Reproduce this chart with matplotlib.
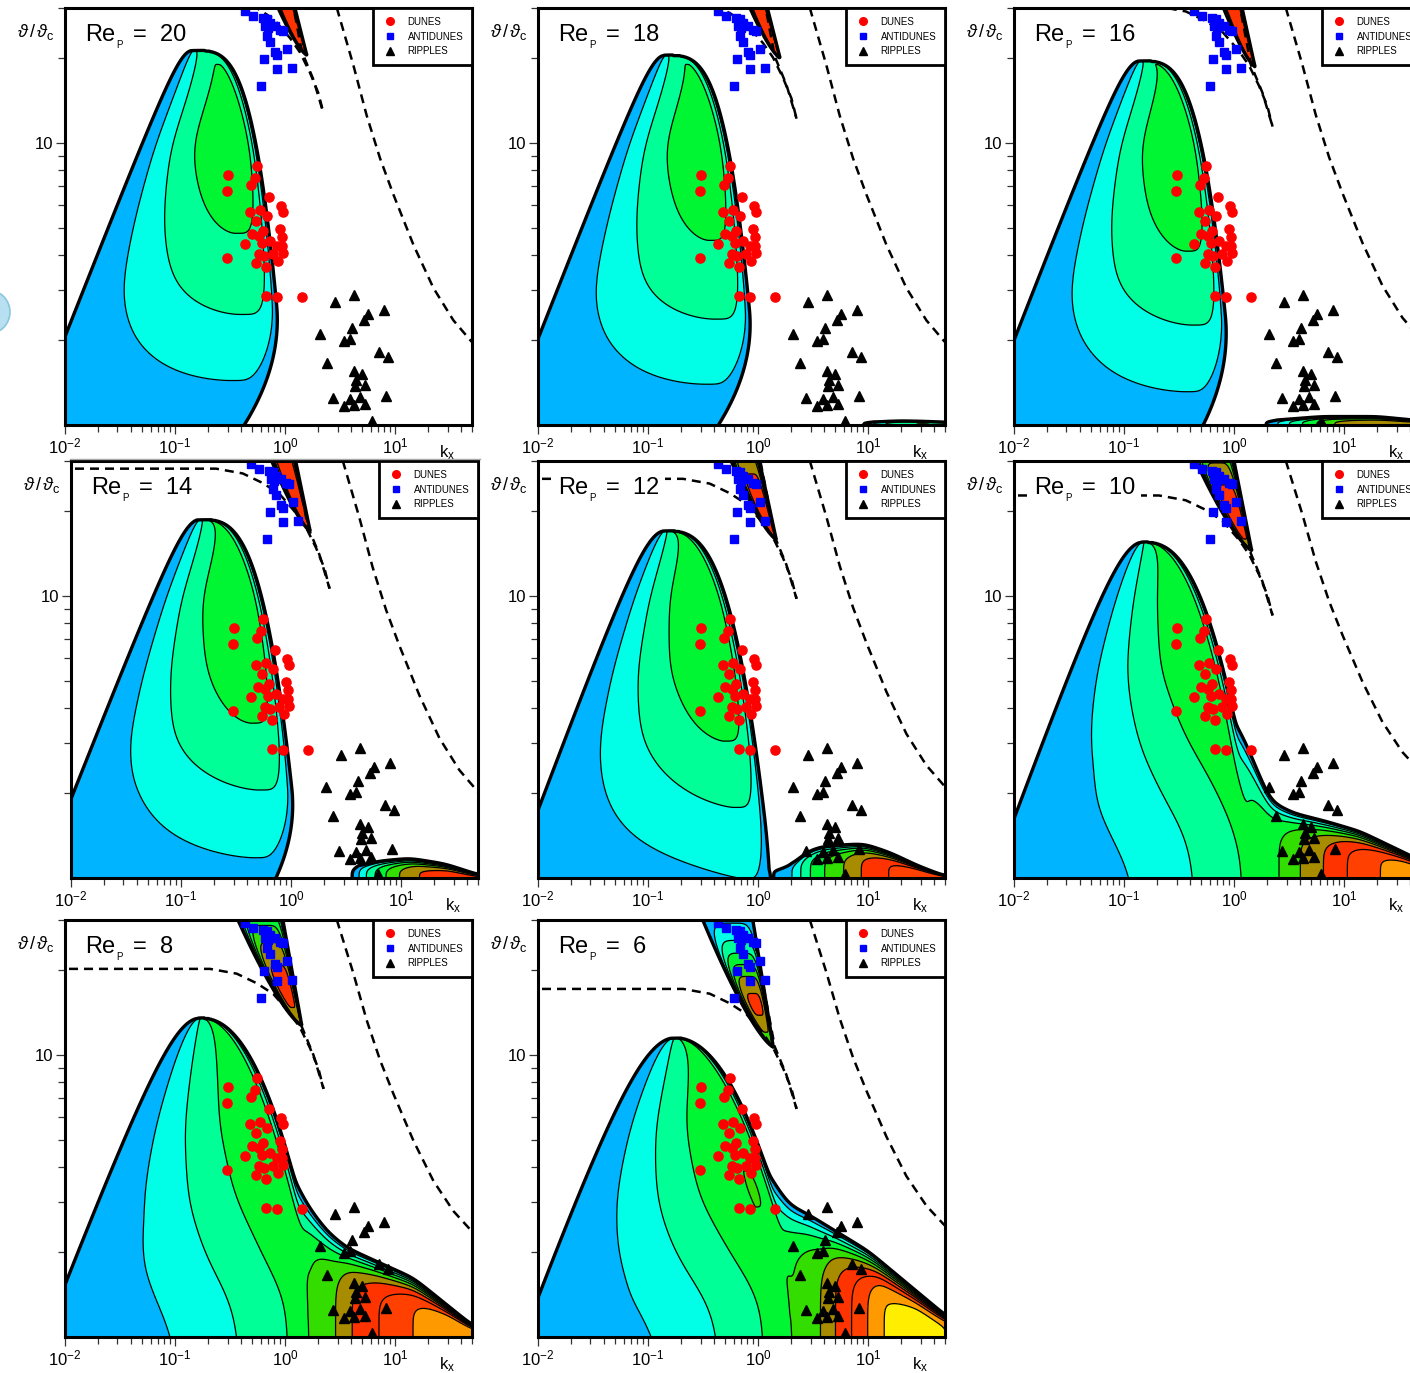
import numpy as np
import matplotlib
matplotlib.use("Agg")
import matplotlib.pyplot as plt
from matplotlib.lines import Line2D
from matplotlib.patches import Circle, Rectangle
from matplotlib.transforms import IdentityTransform
from matplotlib.ticker import NullFormatter

plt.rcParams["font.family"] = ["Liberation Sans", "DejaVu Sans"]
plt.rcParams["mathtext.fontset"] = "custom"
plt.rcParams["mathtext.rm"] = "Liberation Sans"
plt.rcParams["mathtext.it"] = "Liberation Sans:italic"
plt.rcParams["mathtext.bf"] = "Liberation Sans:bold"

# ---------------------------------------------------------------- data
RE_P = [20, 18, 16, 14, 12, 10, 8, 6]

# observed bedforms (wavenumber k_x, Shields ratio theta/theta_c)
DUNE_K = [0.553, 0.301, 0.534, 0.491, 0.295, 0.716, 0.920, 0.953, 0.481, 0.593, 0.690,
          0.542, 0.901, 0.627, 0.501, 0.944, 0.581, 0.731, 0.614, 0.436, 0.841, 0.933,
          0.773, 0.966, 0.581, 0.644, 0.295, 0.859, 0.545, 0.671, 0.668, 0.851, 1.42]
DUNE_TH = [8.30, 7.69, 7.49, 7.09, 6.73, 6.41, 5.98, 5.70, 5.70, 5.78, 5.48,
           5.28, 4.94, 4.86, 4.75, 4.62, 4.68, 4.48, 4.40, 4.36, 4.31, 4.29,
           4.03, 4.06, 4.02, 3.97, 3.90, 3.81, 3.75, 3.63, 2.86, 2.83, 2.84]
ANTI_K = [0.433, 0.515, 0.627, 0.682, 0.731, 0.658, 0.811, 0.705, 0.901, 0.966,
          0.690, 0.731, 1.05, 0.811, 0.851, 0.644, 1.16, 0.841, 0.601]
ANTI_TH = [29.3, 28.0, 27.6, 27.5, 26.5, 25.8, 26.0, 25.5, 25.1, 24.8,
           23.8, 22.8, 21.5, 21.0, 20.4, 19.8, 18.4, 18.2, 15.9]
RIPPLE_K = [2.85, 4.27, 7.88, 5.65, 5.26, 2.09, 4.04, 3.42, 3.93, 7.21, 8.59, 2.41, 4.21,
            5.01, 4.42, 5.34, 4.33, 2.72, 8.28, 3.93, 4.84, 3.46, 5.34, 4.27, 6.14]
RIPPLE_TH = [2.72, 2.89, 2.56, 2.47, 2.36, 2.10, 2.20, 1.99, 2.02, 1.81, 1.74, 1.66, 1.55,
             1.51, 1.44, 1.39, 1.38, 1.25, 1.27, 1.24, 1.26, 1.17, 1.19, 1.18, 1.03]

# growth-rate bands 0-1, 1-2, ... 9+
LEVEL_COLORS = ["#00b4ff", "#00ffe6", "#00ff96", "#00f533", "#33dd00",
                "#a88c00", "#ff3300", "#ff4000", "#ff9900", "#ffee00"]

# dune lobe (log10 k, log10 theta) geometry per Re_p
DUNE_PEAK_U = [-0.84, -0.845, -0.855, -0.83, -0.845, -0.827, -0.77, -0.755]
DUNE_PEAK_V = [1.327, 1.31, 1.29, 1.27, 1.23, 1.19, 1.13, 1.06]
DUNE_EDGE_V = [0.313, 0.305, 0.30, 0.28, 0.24, 0.21, 0.185, 0.139]
DUNE_CAP = [0.3, 0.32, 0.35, 0.38, 0.45, 0.55, 0.7, 0.9]
DUNE_RIGHT_COEF = [0.786, 0.79, 0.80, 0.85, 0.90, 1.00, 1.10, 1.21]
DUNE_RIGHT_POW = [0.284, 0.29, 0.30, 0.32, 0.34, 0.40, 0.45, 0.486]
DUNE_CURL = [2.1, 2.2, 1.9, 2.2, 0.3, 0.0, 0.0, 0.0]
DUNE_CURL_START = [0.9, 0.9, 0.9, 0.95, 1.0, 1.0, 1.0, 1.0]
AMP_V = [0.0, 0.25, 0.5, 0.75, 1.0, 1.25, 1.5]
DUNE_AMP = [
    [0.4, 1.35, 2.5, 3.2, 3.8, 3.05, 2.5],
    [0.45, 1.4, 2.6, 3.25, 3.8, 3.05, 2.5],
    [0.55, 1.5, 2.7, 3.35, 3.8, 3.05, 2.5],
    [0.7, 1.7, 2.9, 3.5, 3.8, 3.05, 2.5],
    [0.9, 2.0, 3.1, 3.7, 3.8, 3.0, 2.5],
    [2.0, 2.95, 3.5, 3.75, 3.5, 2.9, 2.5],
    [2.5, 3.4, 3.7, 3.65, 3.3, 2.9, 2.5],
    [2.8, 3.7, 4.05, 3.9, 3.2, 2.8, 2.5],
]
DUNE_SM_TOP = [0.74, 0.74, 0.74, 0.74, 0.74, 0.76, 0.78, 0.80]
DUNE_SM_BOT = [0.85, 0.86, 0.87, 0.88, 0.90, 0.95, 0.95, 0.95]
DUNE_ML_TOP = [1.8, 1.8, 1.8, 1.8, 1.8, 1.8, 1.8, 1.8]
DUNE_ML_BOT = [1.8, 1.8, 1.7, 1.6, 1.4, 0.5, 0.5, 0.5]
DUNE_MR = [5, 5, 5, 5, 5, 5, 5, 5]

# ripple lobe per Re_p: growth rate along the bed (H) and upper edge of the lobe
RIP_H_U = [
    [],
    [0.7, 0.95, 1.05, 1.15, 1.3, 1.5, 1.7, 1.9],
    [0.0, 0.28, 0.4, 0.5, 0.62, 0.75, 0.9, 1.1, 1.4, 1.7, 1.9],
    [0.3, 0.55, 0.62, 0.68, 0.76, 0.86, 0.98, 1.15, 1.45, 1.7, 1.9],
    [-0.1, 0.12, 0.33, 0.38, 0.47, 0.6, 0.78, 0.93, 1.18, 1.45, 1.7, 1.9],
    [-1.6, -1.3, -0.77, -0.34, 0.085, 0.418, 0.6, 0.812, 1.024, 1.327, 1.55, 1.8],
    [-1.65, -1.35, -0.85, -0.39, 0.047, 0.21, 0.47, 0.6, 0.85, 1.16, 1.5, 1.8],
    [-1.5, -1.2, -0.73, -0.33, 0.064, 0.31, 0.58, 0.7, 0.85, 1.0, 1.12, 1.45, 1.8],
]
RIP_H = [
    [],
    [-5, 0, 1, 2, 2.8, 3.1, 2.8, 2.0],
    [-5, 0, 1, 2, 3, 4, 5, 5.5, 5.8, 5.5, 4],
    [-5, 0, 1, 2, 3, 4, 5, 6, 6.6, 6.2, 5],
    [-5, 0, 1, 2, 3, 4, 5, 6, 7, 7.7, 7.3, 6],
    [-5, 0, 1, 2, 3, 4, 5, 6, 7, 8, 8.6, 8.3],
    [-5, 0, 1, 2, 3, 4, 5, 6, 7, 8, 8.9, 8.5],
    [-5, 0, 1, 2, 3, 4, 5, 6, 7, 8, 9, 9.5, 8.8],
]
RIP_TOP_U = [
    [],
    [1.0, 1.3, 1.6, 1.8],
    [0.3, 0.8, 1.3, 1.7, 1.8],
    [0.58, 0.8, 1.08, 1.4, 1.7, 1.8],
    [0.12, 0.3, 0.448, 0.6, 0.842, 0.964, 1.2, 1.45, 1.69, 1.8],
    [-1.3, -0.3, 0.085, 0.327, 0.539, 0.842, 1.145, 1.6, 1.8],
    [-1.35, -0.3, 0.015, 0.197, 0.379, 0.561, 0.864, 1.167, 1.697, 1.85],
    [-1.2, -0.3, 0.094, 0.276, 0.457, 1.003, 1.7, 1.9],
]
RIP_TOP_V = [
    [],
    [0.01, 0.015, 0.012, 0.008],
    [0.015, 0.03, 0.03, 0.015, 0.01],
    [0.04, 0.06, 0.07, 0.05, 0.012, 0.005],
    [0.03, 0.045, 0.095, 0.113, 0.119, 0.121, 0.09, 0.044, 0.008, 0.004],
    [0.4, 0.75, 0.5, 0.272, 0.23, 0.2, 0.165, 0.08, 0.04],
    [0.4, 0.85, 0.612, 0.47, 0.375, 0.316, 0.262, 0.209, 0.043, 0.01],
    [0.4, 0.85, 0.577, 0.47, 0.434, 0.304, 0.078, 0.02],
]
RIP_POW = [4, 4, 4, 4, 6, 6, 6, 6]
BLEND = [4.0, 4.0, 4.0, 4.0, 2.5, 2.0, 2.0, 2.0]

# antidune wedge geometry per Re_p
WEDGE_TOP_LEFT = [-0.09, -0.10, -0.12, -0.20, -0.27, -0.376, -0.455, -0.527]
WEDGE_TOP_RIGHT = [0.075, 0.07, 0.06, 0.03, 0.0, -0.012, -0.03, -0.057]
WEDGE_TIP_U = [0.197, 0.20, 0.19, 0.173, 0.165, 0.16, 0.152, 0.139]
WEDGE_TIP_V = [1.311, 1.30, 1.27, 1.23, 1.20, 1.161, 1.104, 1.027]
WEDGE_AMP = [7.0, 7.0, 7.0, 6.8, 6.6, 6.5, 6.35, 6.2]
WEDGE_CORE = [0.5, 0.5, 0.5, 0.45, 0.4, 0.4, 0.35, 0.32]
WEDGE_SPREAD = [3.0, 3.0, 3.0, 2.0, 1.2, 1.0, 0.8, 0.45]
WEDGE_ML = [6.0, 6.0, 6.0, 5.5, 5.0, 5.0, 4.5, 4.0]

# dashed boundaries (log10 k, log10 theta)
DASH_A_U = [0.47, 0.621, 0.742, 0.864, 0.985, 1.167, 1.348, 1.53, 1.682, 1.80]
DASH_A_V = [1.478, 1.288, 1.122, 0.980, 0.861, 0.695, 0.553, 0.446, 0.381, 0.335]
DASH_A_DROP = [0.08, 0.08, 0.07, 0.068, 0.05, 0.0, 0.0, -0.02]
DASH_C_U = [-2.1, -0.682, -0.439, -0.257, -0.106, 0.045, 0.136, 0.227, 0.303, 0.35]
DASH_C_F = [1.0, 1.0, 0.96, 0.88, 0.79, 0.63, 0.51, 0.34, 0.17, 0.0]
DASH_B_U = [-0.03, 0.075, 0.152, 0.258, 0.35]
DASH_B_DV = [0.59, 0.38, 0.22, 0.12, 0.0]
DASH_END_V = [1.103, 1.085, 1.057, 1.025, 0.989, 0.930, 0.879, 0.808]
DASH_C_RISE = 0.425

# ---------------------------------------------------------------- layout (pixels)
FIG_W, FIG_H = 1410, 1373
PANEL_LEFT = [65, 538, 1014, 71, 538, 1014, 65, 538]
PANEL_TOP = [8, 8, 8, 461, 461, 461, 920, 920]
PANEL_W, PANEL_H = 407, 417

# ---------------------------------------------------------------- fields
u_grid = np.linspace(-2.02, 1.76, 900)
v_grid = np.linspace(-0.01, 1.49, 650)
U, V = np.meshgrid(u_grid, v_grid)
FLOOR = -5.0


def smooth_profile(xk, yk, x, width=0.06):
    y = np.interp(x, xk, yk)
    dx = x[1] - x[0]
    n = int(3 * width / dx)
    ker = np.exp(-0.5 * (np.arange(-n, n + 1) * dx / width) ** 2)
    ker /= ker.sum()
    return np.convolve(np.pad(y, n, mode="edge"), ker, mode="valid")


def bump(s, sm, ml, mr):
    left = 1.0 - np.abs((sm - s) / sm) ** ml
    right = 1.0 - np.abs((s - sm) / (1.0 - sm)) ** mr
    return np.where(s < sm, left, right)


def dune_field(i):
    up, vp = DUNE_PEAK_U[i], DUNE_PEAK_V[i]
    t = np.clip(vp - V, 1e-7, None)
    t0 = vp - DUNE_EDGE_V[i]
    c1 = DUNE_CAP[i]
    c2 = ((up + 2.0) ** 2 - c1 * t0) / t0 ** 2
    wl = np.sqrt(c1 * t + c2 * t * t)
    wr = DUNE_RIGHT_COEF[i] * t ** DUNE_RIGHT_POW[i] \
        - DUNE_CURL[i] * np.clip(t - DUNE_CURL_START[i], 0, None) ** 2
    wr = np.maximum(wr, 1e-4)
    ul, ur = up - wl, up + wr
    s = (U - ul) / (ur - ul)
    frac = np.clip(V / vp, 0, 1)
    sm = DUNE_SM_BOT[i] + (DUNE_SM_TOP[i] - DUNE_SM_BOT[i]) * frac
    ml = DUNE_ML_BOT[i] + (DUNE_ML_TOP[i] - DUNE_ML_BOT[i]) * frac
    amp = smooth_profile(AMP_V, DUNE_AMP[i], v_grid)[:, None]
    d = amp * bump(s, sm, ml, DUNE_MR[i])
    d = np.where(V < vp, d, FLOOR)
    return np.clip(d, FLOOR, None)


def ripple_field(i):
    if not RIP_H_U[i]:
        return np.full(U.shape, FLOOR)
    h = smooth_profile(RIP_H_U[i], RIP_H[i], u_grid, width=0.04)
    top = smooth_profile(RIP_TOP_U[i], RIP_TOP_V[i], u_grid, width=0.06)
    top = np.maximum(top, 0.002)
    r = h[None, :] - np.maximum(h, 1.0)[None, :] * \
        (np.clip(V, 0, None) / top[None, :]) ** RIP_POW[i]
    return np.clip(r, FLOOR, None)


def wedge_field(i):
    ut, vt = WEDGE_TIP_U[i], WEDGE_TIP_V[i]
    tau = np.clip((V - vt) / (1.5 - vt), 1e-7, None)
    ul = ut + (WEDGE_TOP_LEFT[i] - ut) * tau ** 0.75
    ur = ut + (WEDGE_TOP_RIGHT[i] - ut) * tau
    s = (U - ul) / np.maximum(ur - ul, 1e-7)
    amp = WEDGE_AMP[i] * np.exp(-((tau - WEDGE_CORE[i]) / WEDGE_SPREAD[i]) ** 2)
    w = amp * bump(s, 0.55, WEDGE_ML[i], 6.0)
    w = np.where(V > vt, w, FLOOR)
    return np.clip(w, FLOOR, None)


def growth_field(i):
    k = BLEND[i]
    f = np.logaddexp(k * dune_field(i), k * ripple_field(i)) / k
    return np.maximum(f, wedge_field(i))


# ---------------------------------------------------------------- figure
fig = plt.figure(figsize=(FIG_W / 100, FIG_H / 100), dpi=100)
KX, TH = 10.0 ** U, 10.0 ** V
x_minor = [m * 10.0 ** e for e in (-2, -1, 0) for m in range(2, 10)] + [20, 30, 40, 50]
fill_levels = list(range(10)) + [1000]

for i, re in enumerate(RE_P):
    rect = [PANEL_LEFT[i] / FIG_W, 1 - (PANEL_TOP[i] + PANEL_H) / FIG_H,
            PANEL_W / FIG_W, PANEL_H / FIG_H]
    ax = fig.add_axes(rect)
    ax.set_xscale("log")
    ax.set_yscale("log")

    F = growth_field(i)
    ax.contourf(KX, TH, F, levels=fill_levels, colors=LEVEL_COLORS, zorder=1)
    ax.contour(KX, TH, F, levels=list(range(1, 10)), colors="k", linewidths=0.9, zorder=2)
    ax.contour(KX, TH, F, levels=[0], colors="k", linewidths=2.4, zorder=3)

    dash = dict(color="k", lw=1.8, ls=(0, (3.6, 2.4)), zorder=4)
    av = np.array(DASH_A_V)
    av = av - DASH_A_DROP[i] * (1.478 - av) / (1.478 - 0.381)
    ax.plot(10.0 ** np.array(DASH_A_U), 10.0 ** av, **dash)
    ve = DASH_END_V[i]
    ax.plot(10.0 ** np.array(DASH_C_U), 10.0 ** (ve + DASH_C_RISE * np.array(DASH_C_F)), **dash)
    ax.plot(10.0 ** np.array(DASH_B_U), 10.0 ** (ve + np.array(DASH_B_DV)), **dash)

    ax.plot(DUNE_K, DUNE_TH, ls="none", marker="o", ms=6.6, mfc="#ff0000", mec="#ff0000", zorder=6)
    ax.plot(ANTI_K, ANTI_TH, ls="none", marker="s", ms=5.2, mfc="#0000ff", mec="#0000ff", zorder=6)
    ax.plot(RIPPLE_K, RIPPLE_TH, ls="none", marker="^", ms=7.2, mfc="k", mec="k", zorder=6)

    ax.set_xlim(0.01, 50)
    ax.set_ylim(1, 30)
    ax.set_xticks([0.01, 0.1, 1, 10])
    ax.set_xticklabels([r"$10^{-2}$", r"$10^{-1}$", r"$10^{0}$", r"$10^{1}$"])
    ax.set_xticks(x_minor, minor=True)
    ax.set_yticks([10])
    ax.set_yticklabels(["10"])
    ax.set_yticks([2, 3, 4, 5, 6, 7, 8, 9, 20, 30], minor=True)
    ax.xaxis.set_minor_formatter(NullFormatter())
    ax.yaxis.set_minor_formatter(NullFormatter())
    ax.tick_params(which="both", direction="out", top=False, right=False, color="#333333")
    ax.tick_params(which="major", length=6.5, width=0.9, labelsize=12, pad=2)
    ax.tick_params(which="minor", length=5.0, width=0.9)
    for sp in ax.spines.values():
        sp.set_linewidth(2.2)
        sp.set_zorder(8)

    # Re_p label sits on a white patch so the dashed line stops around it
    ax.add_patch(Rectangle((0.042, 0.902), 0.27, 0.066, transform=ax.transAxes,
                           facecolor="white", edgecolor="none", zorder=8.5))
    ax.text(0.049, 0.935, "Re", transform=ax.transAxes,
            fontsize=17, ha="left", va="center", zorder=9)
    ax.text(0.127, 0.912, "P", transform=ax.transAxes,
            fontsize=7, ha="left", va="center", zorder=9)
    ax.text(0.168, 0.935, "=  %d" % re, transform=ax.transAxes,
            fontsize=17, ha="left", va="center", zorder=9)
    ax.text(0.938, -0.066, r"k$_{\mathrm{x}}$", transform=ax.transAxes,
            fontsize=12, ha="center", va="center")
    ax.text(-0.072, 0.942, r"$\vartheta\,/\,\vartheta_{\mathrm{c}}$", transform=ax.transAxes,
            fontsize=13, ha="center", va="center")

    handles = [Line2D([], [], ls="none", marker="o", ms=5.5, mfc="#ff0000", mec="#ff0000"),
               Line2D([], [], ls="none", marker="s", ms=5.0, mfc="#0000ff", mec="#0000ff"),
               Line2D([], [], ls="none", marker="^", ms=6.0, mfc="k", mec="k")]
    leg = ax.legend(handles, ["DUNES", "ANTIDUNES", "RIPPLES"], loc="upper right",
                    bbox_to_anchor=(1.0, 1.0), borderaxespad=0.0, fontsize=7,
                    frameon=True, fancybox=False, edgecolor="k", framealpha=1.0,
                    borderpad=0.9, labelspacing=0.5, handlelength=1.6, handletextpad=1.0)
    leg.get_frame().set_linewidth(2.0)
    leg.set_zorder(10)

fig.add_artist(Circle((-12, FIG_H - 312), 22, transform=IdentityTransform(),
                      facecolor="#b9e0f1", edgecolor="#8ac6e0", lw=1.2))
fig.add_artist(Line2D([70, 480], [FIG_H - 459, FIG_H - 459], transform=IdentityTransform(),
                      color="#a8a8a8", lw=1.0))

fig.savefig("out.png", dpi=100)
